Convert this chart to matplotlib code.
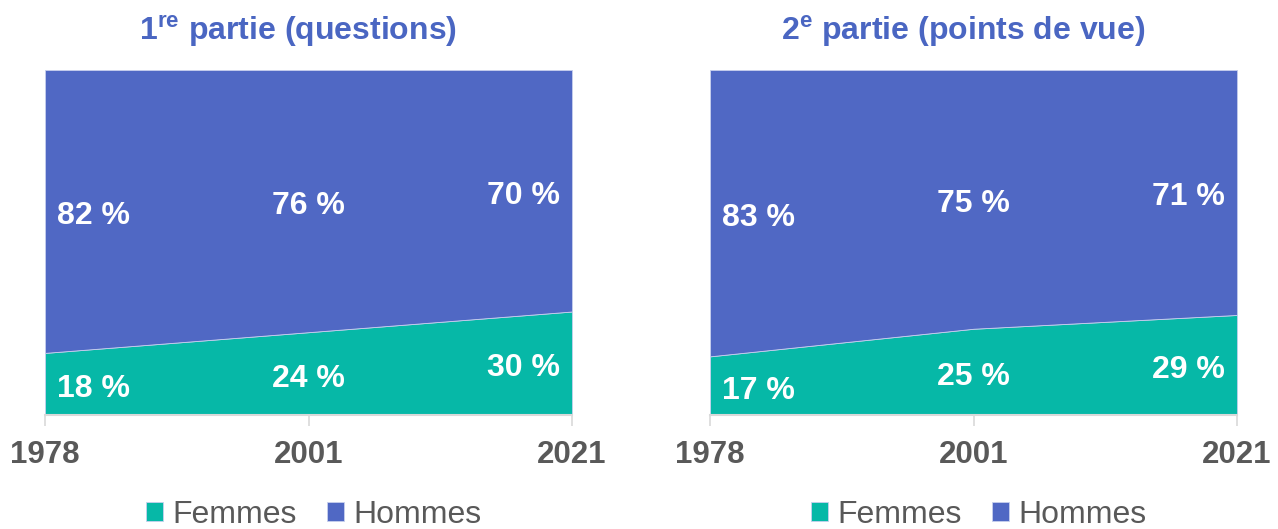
import matplotlib
matplotlib.use("Agg")
import matplotlib.pyplot as plt

plt.rcParams["font.family"] = ["Liberation Sans", "DejaVu Sans"]
plt.rcParams["mathtext.fontset"] = "custom"
plt.rcParams["mathtext.bf"] = "Liberation Sans:bold"
plt.rcParams["mathtext.rm"] = "Liberation Sans:bold"

ANNEES = ["1978", "2001", "2021"]
FEMMES_Q = [18, 24, 30]
HOMMES_Q = [82, 76, 70]
FEMMES_PV = [17, 25, 29]
HOMMES_PV = [83, 75, 71]
TITRES = [r"1$^{\mathbf{re}}$ partie (questions)", r"2$^{\mathbf{e}}$ partie (points de vue)"]

COULEUR_F = "#06B8A7"
COULEUR_H = "#5068C4"
COULEUR_TITRE = "#4A66C2"
GRIS = "#595959"

fig = plt.figure(figsize=(12.78, 5.29), dpi=100)
positions = [[0.0352, 0.2155, 0.4124, 0.6522], [0.5556, 0.2155, 0.4124, 0.6522]]
donnees = [(FEMMES_Q, HOMMES_Q), (FEMMES_PV, HOMMES_PV)]

for pos, (femmes, hommes), titre in zip(positions, donnees, TITRES):
    ax = fig.add_axes(pos)
    x = list(range(len(ANNEES)))
    ax.stackplot(x, femmes, hommes, colors=[COULEUR_F, COULEUR_H],
                 labels=["Femmes", "Hommes"], edgecolor="#c8d0ee", linewidth=0.6)
    ax.set_xlim(0, len(ANNEES) - 1)
    ax.set_ylim(0, 100)
    ax.set_xticks(x)
    ax.set_xticklabels(ANNEES, fontsize=22.5, fontweight="bold", color=GRIS)
    ax.set_yticks([])
    ax.tick_params(axis="x", direction="out", length=8, width=1.2, color="#D9D9D9", pad=10)
    for nom in ["top", "right", "left"]:
        ax.spines[nom].set_visible(False)
    ax.spines["bottom"].set_color("#D9D9D9")
    ax.spines["bottom"].set_linewidth(1.5)

    # étiquettes au milieu de chaque bande
    for i in x:
        if i == 0:
            ha, dx = "left", 12
        elif i == len(x) - 1:
            ha, dx = "right", -12
        else:
            ha, dx = "center", 0
        ax.annotate(f"{femmes[i]} %", (i, femmes[i] / 2), xytext=(dx, -5),
                    textcoords="offset pixels", ha=ha, va="center",
                    fontsize=23, fontweight="bold", color="white")
        ax.annotate(f"{hommes[i]} %", (i, femmes[i] + hommes[i] / 2), xytext=(dx, -5),
                    textcoords="offset pixels", ha=ha, va="center",
                    fontsize=23, fontweight="bold", color="white")

    ax.set_title(titre, fontsize=23, fontweight="bold", color=COULEUR_TITRE, pad=22, x=0.481)
    ax.legend(loc="center", bbox_to_anchor=(0.51, -0.29), ncol=2, frameon=False,
              fontsize=23, labelcolor=GRIS, handlelength=0.53, handleheight=0.53,
              handletextpad=0.28, columnspacing=0.97, borderaxespad=0)

plt.savefig("out.png", dpi=100)
